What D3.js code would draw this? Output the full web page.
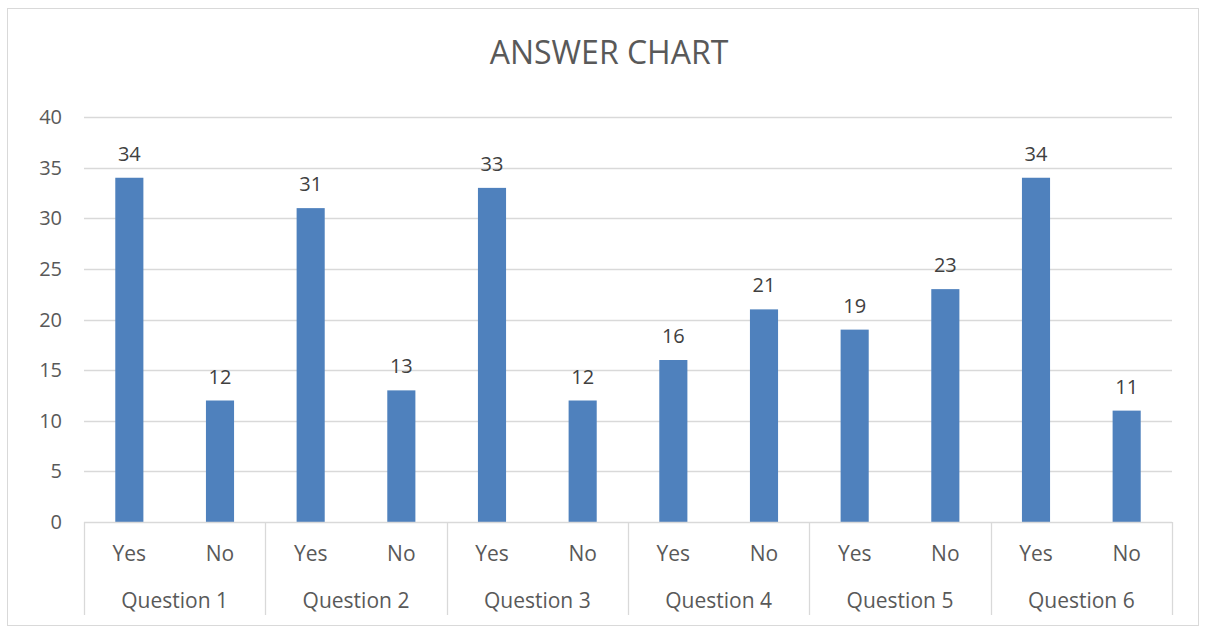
<!DOCTYPE html>
<html lang="en">
<head>
    <meta charset="UTF-8">
    <title>Answer Chart</title>
    <script src="https://d3js.org/d3.v7.min.js"></script>
    <style>
        body { margin: 0; background: #fff; }
        svg { display: block; font-family: "Open Sans", Lato, sans-serif; }
    </style>
</head>
<body>
    <div id="chart"></div>

    <script>
        const questions = ["Question 1", "Question 2", "Question 3", "Question 4", "Question 5", "Question 6"];
        const answers = ["Yes", "No"];
        const yesValues = [34, 31, 33, 16, 19, 34];
        const noValues = [12, 13, 12, 21, 23, 11];
        const yTicks = [0, 5, 10, 15, 20, 25, 30, 35, 40];

        const W = 1206, H = 633;
        const svg = d3.select("#chart").append("svg").attr("width", W).attr("height", H);

        // chart border
        svg.append("rect")
            .attr("x", 7.5).attr("y", 8.5)
            .attr("width", 1191).attr("height", 617)
            .attr("fill", "#fff").attr("stroke", "#d9d9d9");

        const margin = { top: 117, left: 84, right: 34, bottom: 111 };
        const width = W - margin.left - margin.right;
        const height = H - margin.top - margin.bottom;
        const g = svg.append("g").attr("transform", `translate(${margin.left},${margin.top})`);

        // flatten into rows of {q, a, v}
        const rows = [];
        questions.forEach((q, i) => {
            rows.push({ q, a: answers[0], v: yesValues[i], key: q + "|" + answers[0] });
            rows.push({ q, a: answers[1], v: noValues[i], key: q + "|" + answers[1] });
        });

        const x = d3.scaleBand()
            .domain(rows.map(d => d.key))
            .range([0, width])
            .paddingInner(0.69)
            .paddingOuter(0.345);

        const xGroup = d3.scaleBand()
            .domain(questions)
            .range([0, width]);

        const y = d3.scaleLinear().domain([0, 40]).range([height, 0]);

        // gridlines
        g.selectAll(".grid")
            .data(yTicks.filter(t => t > 0))
            .enter().append("line")
            .attr("x1", 0).attr("x2", width)
            .attr("y1", d => Math.round(y(d)) + 0.5).attr("y2", d => Math.round(y(d)) + 0.5)
            .attr("stroke", "#d9d9d9").attr("stroke-width", 1.3);

        // y labels
        g.selectAll(".ylab")
            .data(yTicks)
            .enter().append("text")
            .attr("x", -22).attr("y", d => y(d))
            .attr("dy", "0.35em")
            .attr("text-anchor", "end")
            .attr("font-size", 20)
            .attr("fill", "#595959")
            .text(d => d);

        // bars
        g.selectAll(".bar")
            .data(rows)
            .enter().append("rect")
            .attr("x", d => x(d.key))
            .attr("y", d => y(d.v))
            .attr("width", x.bandwidth())
            .attr("height", d => height - y(d.v))
            .attr("fill", "#4f81bd");

        // data labels
        g.selectAll(".val")
            .data(rows)
            .enter().append("text")
            .attr("x", d => x(d.key) + x.bandwidth() / 2)
            .attr("y", d => y(d.v) - 17)
            .attr("text-anchor", "middle")
            .attr("font-size", 20)
            .attr("fill", "#404040")
            .text(d => d.v);

        // x axis line and group separators
        g.append("line")
            .attr("x1", 0).attr("x2", width)
            .attr("y1", height + 0.5).attr("y2", height + 0.5)
            .attr("stroke", "#d9d9d9").attr("stroke-width", 1.3);

        const seps = questions.map(q => xGroup(q)).concat([width]);
        g.selectAll(".sep")
            .data(seps)
            .enter().append("line")
            .attr("x1", d => Math.round(d) + 0.5).attr("x2", d => Math.round(d) + 0.5)
            .attr("y1", height).attr("y2", height + 93)
            .attr("stroke", "#d9d9d9").attr("stroke-width", 1.3);

        // answer labels
        g.selectAll(".alab")
            .data(rows)
            .enter().append("text")
            .attr("x", d => x(d.key) + x.bandwidth() / 2)
            .attr("y", height + 39)
            .attr("text-anchor", "middle")
            .attr("font-size", 21)
            .attr("fill", "#595959")
            .text(d => d.a);

        // question labels
        g.selectAll(".qlab")
            .data(questions)
            .enter().append("text")
            .attr("x", d => xGroup(d) + xGroup.bandwidth() / 2)
            .attr("y", height + 86)
            .attr("text-anchor", "middle")
            .attr("font-size", 21)
            .attr("fill", "#595959")
            .text(d => d);

        // title
        svg.append("text")
            .attr("x", 609).attr("y", 64)
            .attr("text-anchor", "middle")
            .attr("font-size", 32)
            .attr("fill", "#595959")
            .text("ANSWER CHART");
    </script>
</body>
</html>
